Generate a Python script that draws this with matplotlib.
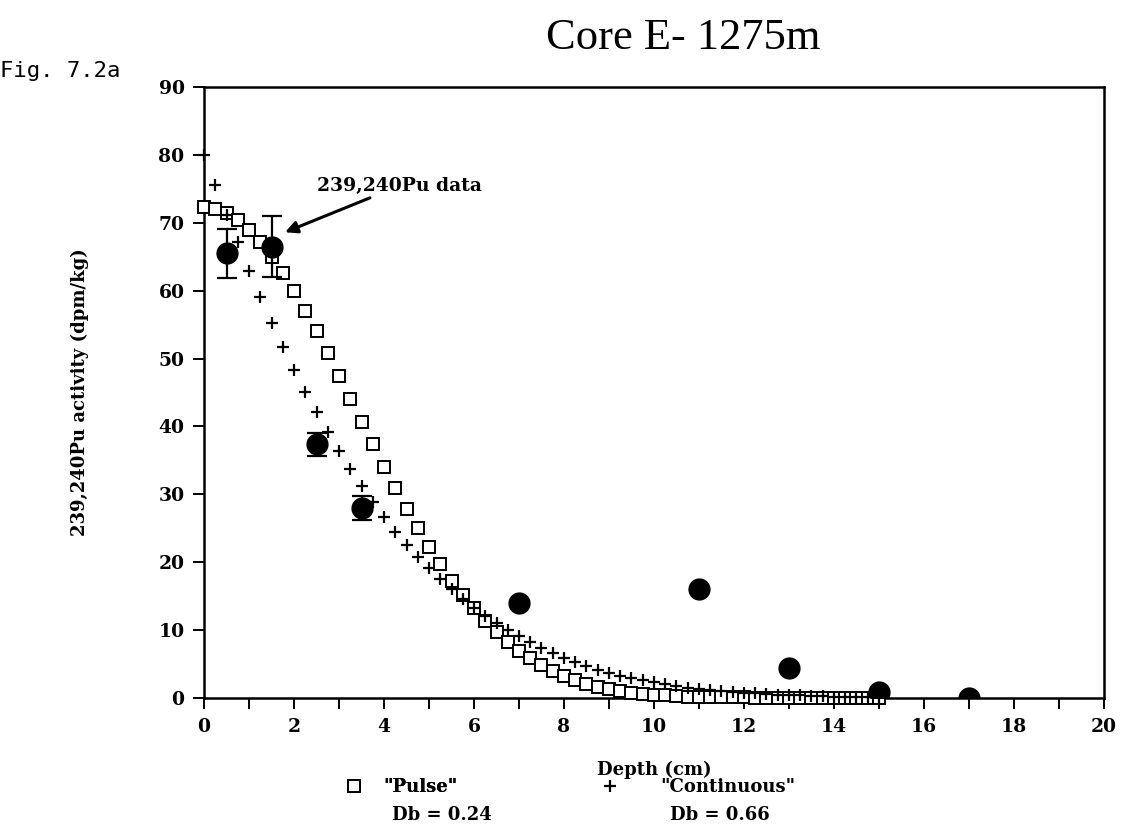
import numpy as np
import matplotlib.pyplot as plt

# model curves (depth step 0.25 cm, 0..15 cm)
depth_model = np.arange(0, 15.01, 0.25)
pulse = [72.3, 72.0, 71.4, 70.4, 68.9, 67.2, 65.0, 62.6, 60.0, 57.0,
         54.0, 50.8, 47.4, 44.1, 40.7, 37.4, 34.1, 30.9, 27.9, 25.0,
         22.3, 19.7, 17.3, 15.2, 13.2, 11.3, 9.7, 8.3, 7.0, 5.9,
         4.9, 4.0, 3.3, 2.6, 2.1, 1.7, 1.3, 1.0, 0.8, 0.6,
         0.5, 0.4, 0.3, 0.2, 0.2, 0.1, 0.1, 0.1, 0.1, 0.0,
         0.0, 0.0, 0.0, 0.0, 0.0, 0.0, 0.0, 0.0, 0.0, 0.0, 0.0]
continuous = [80.0, 75.6, 71.2, 67.1, 62.9, 59.0, 55.3, 51.7, 48.3, 45.1,
              42.1, 39.2, 36.4, 33.7, 31.2, 28.9, 26.7, 24.5, 22.6, 20.8,
              19.1, 17.5, 16.0, 14.6, 13.3, 12.1, 11.0, 10.0, 9.1, 8.2,
              7.4, 6.6, 5.9, 5.3, 4.7, 4.2, 3.7, 3.3, 2.9, 2.6,
              2.3, 2.0, 1.8, 1.5, 1.3, 1.2, 1.0, 0.9, 0.8, 0.7,
              0.6, 0.5, 0.4, 0.4, 0.3, 0.3, 0.2, 0.2, 0.2, 0.1, 0.1]

# measured 239,240Pu
depth_data = [0.5, 1.5, 2.5, 3.5, 7, 11, 13, 15, 17]
pu_data = [65.5, 66.5, 37.4, 28.0, 14.0, 16.0, 4.4, 0.9, 0.0]
pu_err = [3.6, 4.5, 1.7, 1.8, 0, 0, 0, 0, 0]

font = 'DejaVu Serif'

fig = plt.figure(figsize=(11.23, 8.36), dpi=100)
ax = fig.add_axes([0.1817, 0.165, 0.8013, 0.731])

sq, = ax.plot(depth_model, pulse, ls='none', marker='s', ms=8.5,
              mfc='white', mec='black', mew=1.4, zorder=3, clip_on=False)
pl, = ax.plot(depth_model, continuous, ls='none', marker='+', ms=9,
              mec='black', mew=1.6, zorder=4, clip_on=False)
ax.errorbar(depth_data, pu_data, yerr=pu_err, fmt='none',
            ecolor='black', elinewidth=1.6, capsize=7, capthick=1.6, zorder=5)
ax.scatter(depth_data, pu_data, s=225, color='black', zorder=6, clip_on=True)

ax.set_xlim(0, 20)
ax.set_ylim(0, 90)
ax.set_xticks(range(0, 21, 1))
ax.set_xticklabels([str(v) if v % 2 == 0 else '' for v in range(0, 21)])
ax.set_yticks(range(0, 91, 10))
ax.tick_params(direction='out', length=8, width=1.4, pad=6)
for lab in ax.get_xticklabels() + ax.get_yticklabels():
    lab.set_fontfamily(font)
    lab.set_fontweight('bold')
    lab.set_fontsize(13.5)
for s in ax.spines.values():
    s.set_linewidth(1.8)

ax.set_xlabel('Depth (cm)', fontfamily=font, fontweight='bold', fontsize=13, labelpad=18)
ax.set_ylabel('239,240Pu activity (dpm/kg)', fontfamily=font, fontweight='bold',
              fontsize=13, labelpad=50)

ax.annotate('239,240Pu data', xy=(1.8, 68.6), xytext=(2.5, 75.4),
            fontfamily=font, fontweight='bold', fontsize=13.5, va='center',
            arrowprops=dict(arrowstyle='-|>', color='black', lw=2.2,
                            mutation_scale=18, shrinkA=0, shrinkB=0))

fig.text(0.608, 0.955, 'Core E- 1275m', fontfamily='Liberation Serif',
         fontsize=32, ha='center', va='center')
fig.text(0.0, 0.915, 'Fig. 7.2a', fontfamily='DejaVu Sans Mono',
         fontsize=16, ha='left', va='center')

# legend rows below the axis
leg1 = fig.legend([sq], ['"Pulse"'], loc='center left',
                  bbox_to_anchor=(345 / 1123, 1 - 787 / 836),
                  frameon=False, handlelength=1.0, handletextpad=1.1,
                  borderpad=0, borderaxespad=0,
                  prop=dict(family=font, weight='bold', size=13))
leg2 = fig.legend([pl], ['"Continuous"'], loc='center left',
                  bbox_to_anchor=(601 / 1123, 1 - 787 / 836),
                  frameon=False, handlelength=1.0, handletextpad=2.3,
                  borderpad=0, borderaxespad=0,
                  prop=dict(family=font, weight='bold', size=13))
fig.add_artist(leg1)

fig.text(392 / 1123, 1 - 815 / 836, 'Db = 0.24', fontfamily=font,
         fontweight='bold', fontsize=13, ha='left', va='center')
fig.text(670 / 1123, 1 - 815 / 836, 'Db = 0.66', fontfamily=font,
         fontweight='bold', fontsize=13, ha='left', va='center')

fig.savefig('out.png', dpi=100)
